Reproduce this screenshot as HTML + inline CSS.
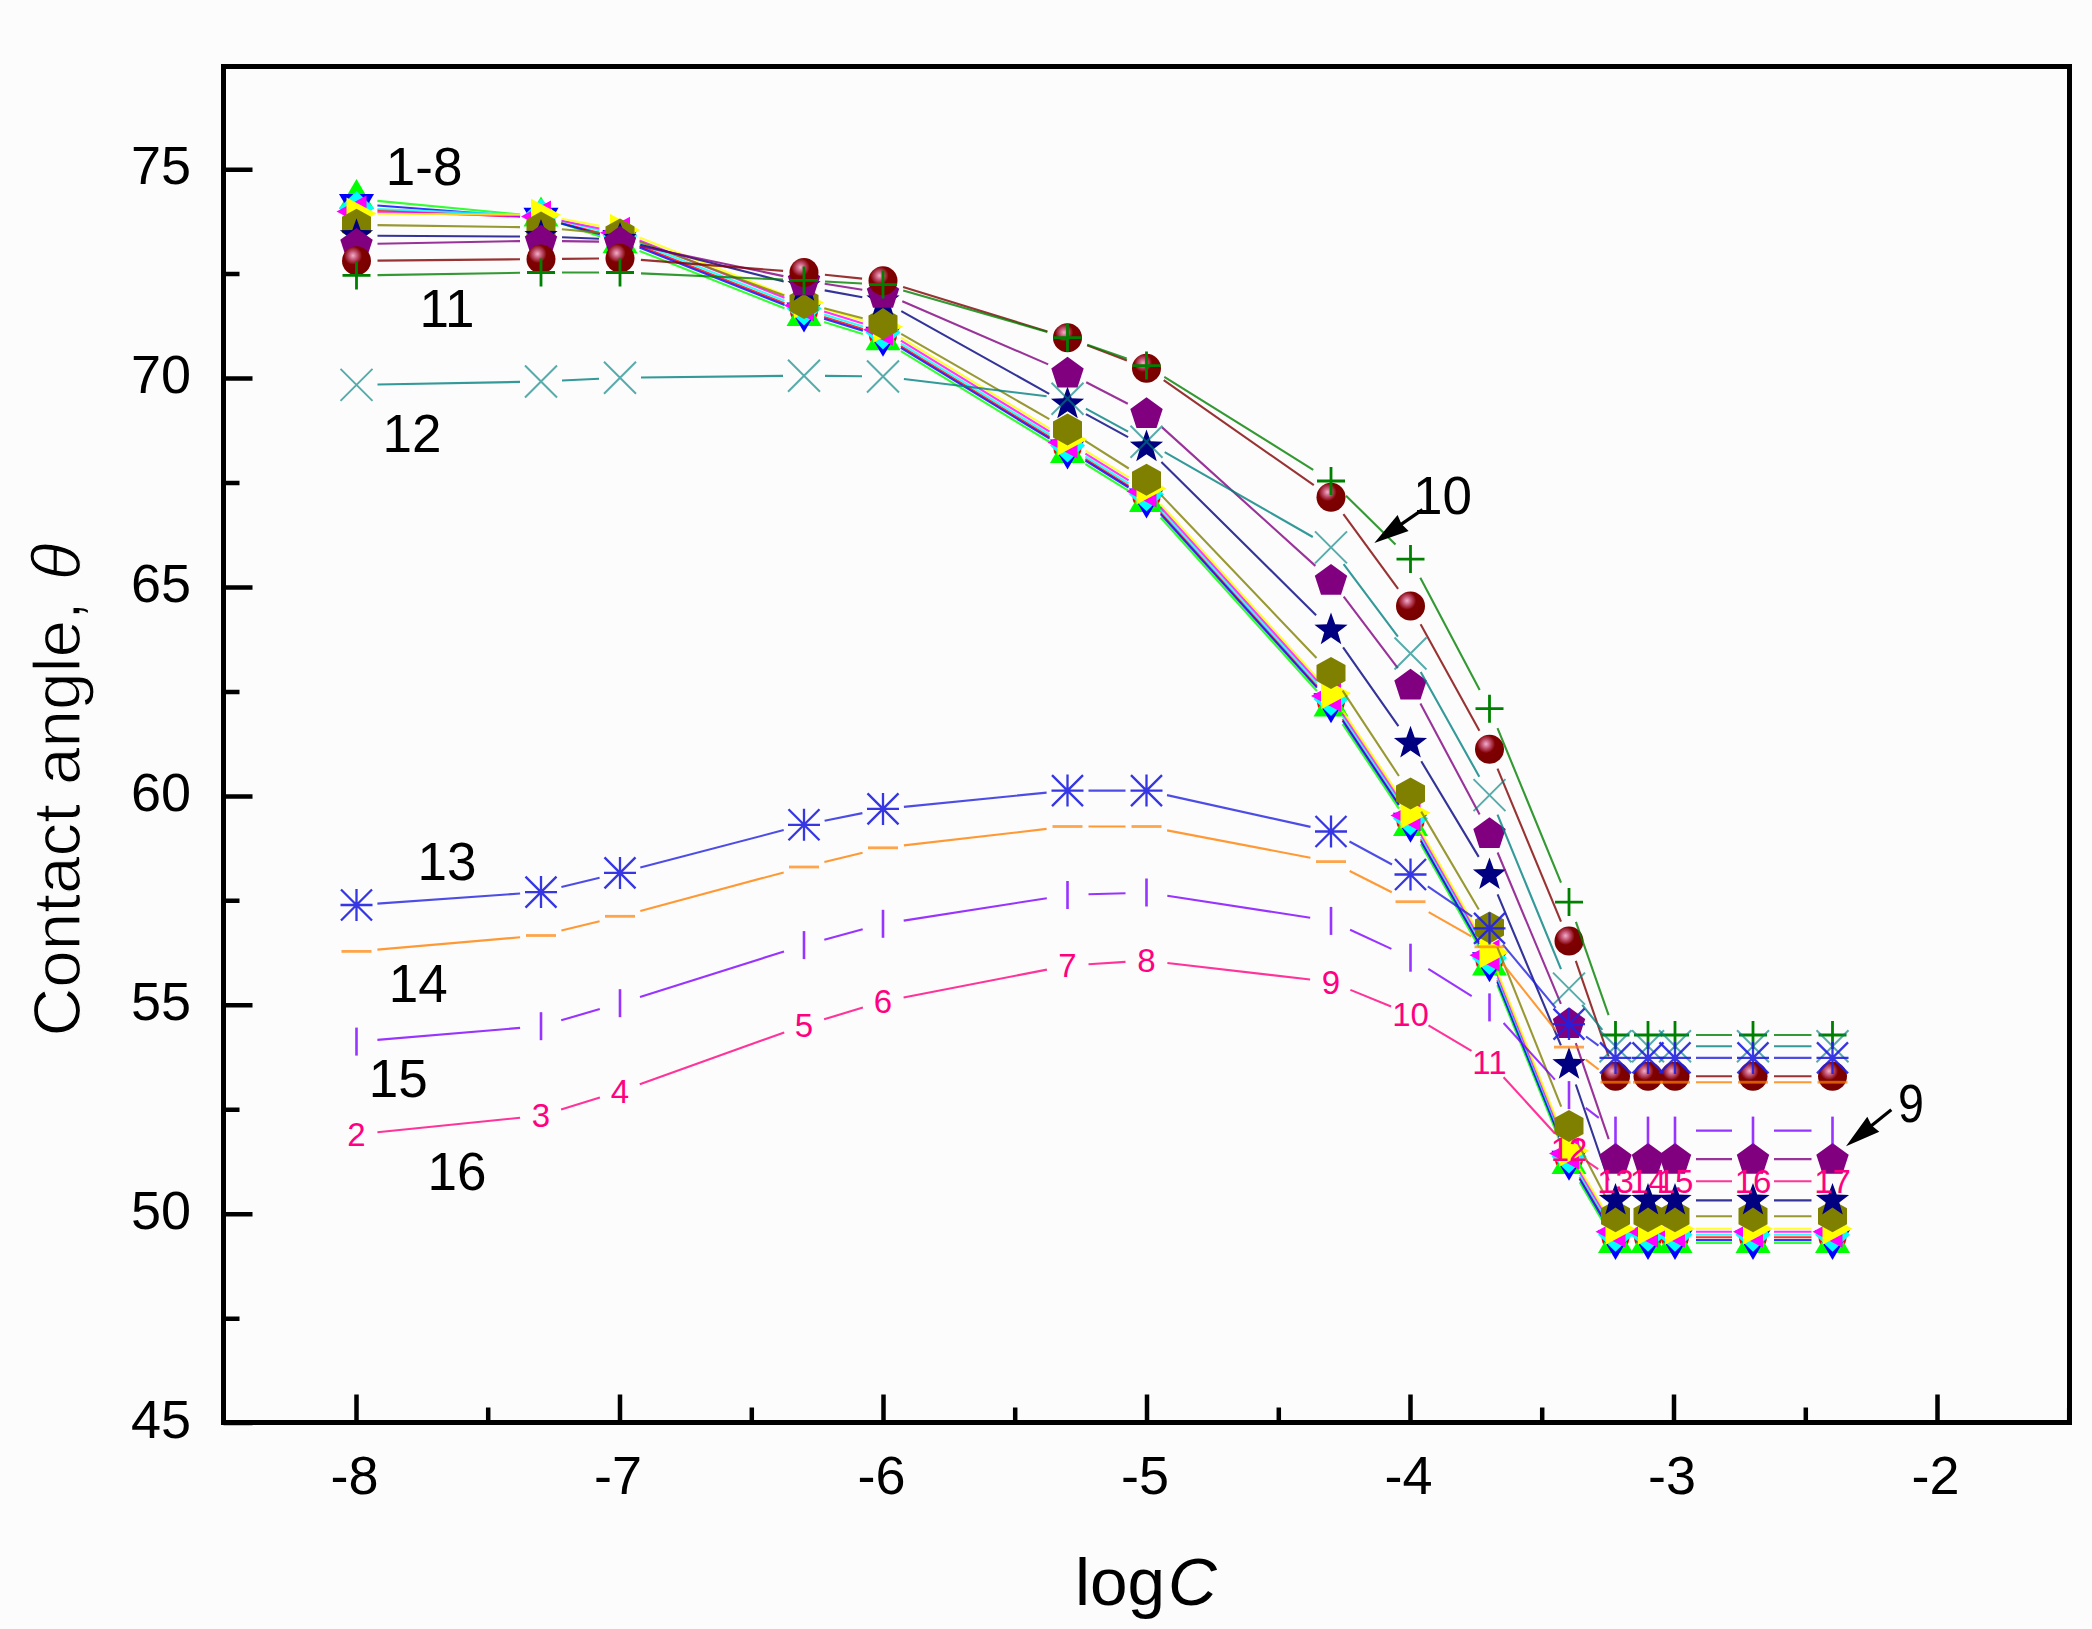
<!DOCTYPE html>
<html><head><meta charset="utf-8"><title>Contact angle vs logC</title>
<style>
html,body{margin:0;padding:0;background:#fcfcfc;}
svg{display:block;}
text{font-family:"Liberation Sans",Arial,sans-serif;}
.tl{font-size:54px;fill:#000;}
.at{font-size:67.5px;fill:#000;stroke:#fcfcfc;stroke-width:1.6px;}
.pl{font-size:53px;fill:#000;}
.idx{font-size:33px;text-anchor:middle;}
</style></head><body>
<svg width="2092" height="1629" viewBox="0 0 2092 1629">
<defs><radialGradient id="sph" cx="0.38" cy="0.32" r="0.7"><stop offset="0" stop-color="#f0b0c8"/><stop offset="0.22" stop-color="#c05070"/><stop offset="0.45" stop-color="#800000"/><stop offset="1" stop-color="#780000"/></radialGradient></defs>
<rect width="2092" height="1629" fill="#fcfcfc"/>
<path d="M377.5 210.3L520.0 216.8M561.3 223.0L599.7 233.0M639.5 245.9L784.5 303.2M824.1 317.1L862.9 329.0M900.9 346.1L1049.6 437.0M1085.4 459.0L1128.6 485.8M1160.6 512.4L1316.9 686.0M1342.6 719.0L1398.9 803.6M1420.8 839.3L1479.2 942.3M1497.3 980.1L1561.2 1139.6M1579.7 1177.1L1604.8 1219.1M1696.0 1237.2L1732.0 1237.2M1774.0 1237.2L1811.5 1237.2" stroke="#FF0000" stroke-width="2.1" fill="none" opacity="0.8"/><circle cx="356.5" cy="209.4" r="14" fill="#FF0000"/><circle cx="541.0" cy="217.7" r="14" fill="#FF0000"/><circle cx="620.0" cy="238.2" r="14" fill="#FF0000"/><circle cx="804.0" cy="310.9" r="14" fill="#FF0000"/><circle cx="883.0" cy="335.1" r="14" fill="#FF0000"/><circle cx="1067.5" cy="448.0" r="14" fill="#FF0000"/><circle cx="1146.5" cy="496.8" r="14" fill="#FF0000"/><circle cx="1331.0" cy="701.6" r="14" fill="#FF0000"/><circle cx="1410.5" cy="821.1" r="14" fill="#FF0000"/><circle cx="1489.5" cy="960.6" r="14" fill="#FF0000"/><circle cx="1569.0" cy="1159.1" r="14" fill="#FF0000"/><circle cx="1615.5" cy="1237.2" r="14" fill="#FF0000"/><circle cx="1648.0" cy="1237.2" r="14" fill="#FF0000"/><circle cx="1675.0" cy="1237.2" r="14" fill="#FF0000"/><circle cx="1753.0" cy="1237.2" r="14" fill="#FF0000"/><circle cx="1832.5" cy="1237.2" r="14" fill="#FF0000"/><path d="M377.4 200.9L520.1 214.5M560.9 223.2L600.1 236.5M639.5 250.9L784.5 308.2M824.1 322.1L862.9 334.0M900.9 351.1L1049.6 442.0M1085.4 464.0L1128.6 490.8M1160.6 517.5L1316.9 691.0M1342.6 724.1L1398.9 808.6M1420.8 844.3L1479.2 947.3M1497.3 985.1L1561.2 1144.6M1579.7 1182.2L1604.8 1224.9M1696.0 1243.0L1732.0 1243.0M1774.0 1243.0L1811.5 1243.0" stroke="#00FF00" stroke-width="2.1" fill="none" opacity="0.8"/><polygon points="356.5,178.9 374.0,208.9 339.0,208.9" fill="#00FF00"/><polygon points="541.0,196.5 558.5,226.5 523.5,226.5" fill="#00FF00"/><polygon points="620.0,223.2 637.5,253.2 602.5,253.2" fill="#00FF00"/><polygon points="804.0,295.9 821.5,325.9 786.5,325.9" fill="#00FF00"/><polygon points="883.0,320.2 900.5,350.2 865.5,350.2" fill="#00FF00"/><polygon points="1067.5,433.0 1085.0,463.0 1050.0,463.0" fill="#00FF00"/><polygon points="1146.5,481.9 1164.0,511.9 1129.0,511.9" fill="#00FF00"/><polygon points="1331.0,686.6 1348.5,716.6 1313.5,716.6" fill="#00FF00"/><polygon points="1410.5,806.1 1428.0,836.1 1393.0,836.1" fill="#00FF00"/><polygon points="1489.5,945.6 1507.0,975.6 1472.0,975.6" fill="#00FF00"/><polygon points="1569.0,1144.1 1586.5,1174.1 1551.5,1174.1" fill="#00FF00"/><polygon points="1615.5,1223.0 1633.0,1253.0 1598.0,1253.0" fill="#00FF00"/><polygon points="1648.0,1223.0 1665.5,1253.0 1630.5,1253.0" fill="#00FF00"/><polygon points="1675.0,1223.0 1692.5,1253.0 1657.5,1253.0" fill="#00FF00"/><polygon points="1753.0,1223.0 1770.5,1253.0 1735.5,1253.0" fill="#00FF00"/><polygon points="1832.5,1223.0 1850.0,1253.0 1815.0,1253.0" fill="#00FF00"/><path d="M377.4 205.5L520.1 216.2M561.2 223.4L599.8 234.2M639.5 247.6L784.5 304.9M824.1 318.7L862.9 330.7M900.9 347.8L1049.6 438.7M1085.4 460.7L1128.6 487.5M1160.6 514.1L1316.9 687.6M1342.6 720.7L1398.9 805.2M1420.8 841.0L1479.2 944.0M1497.3 981.8L1561.2 1141.2M1579.6 1178.8L1604.9 1222.0M1696.0 1240.1L1732.0 1240.1M1774.0 1240.1L1811.5 1240.1" stroke="#0000FF" stroke-width="2.1" fill="none" opacity="0.8"/><polygon points="339.0,194.0 374.0,194.0 356.5,224.0" fill="#0000FF"/><polygon points="523.5,207.7 558.5,207.7 541.0,237.7" fill="#0000FF"/><polygon points="602.5,229.9 637.5,229.9 620.0,259.9" fill="#0000FF"/><polygon points="786.5,302.6 821.5,302.6 804.0,332.6" fill="#0000FF"/><polygon points="865.5,326.8 900.5,326.8 883.0,356.8" fill="#0000FF"/><polygon points="1050.0,439.6 1085.0,439.6 1067.5,469.6" fill="#0000FF"/><polygon points="1129.0,488.5 1164.0,488.5 1146.5,518.5" fill="#0000FF"/><polygon points="1313.5,693.2 1348.5,693.2 1331.0,723.2" fill="#0000FF"/><polygon points="1393.0,812.7 1428.0,812.7 1410.5,842.7" fill="#0000FF"/><polygon points="1472.0,952.3 1507.0,952.3 1489.5,982.3" fill="#0000FF"/><polygon points="1551.5,1150.7 1586.5,1150.7 1569.0,1180.7" fill="#0000FF"/><polygon points="1598.0,1230.1 1633.0,1230.1 1615.5,1260.1" fill="#0000FF"/><polygon points="1630.5,1230.1 1665.5,1230.1 1648.0,1260.1" fill="#0000FF"/><polygon points="1657.5,1230.1 1692.5,1230.1 1675.0,1260.1" fill="#0000FF"/><polygon points="1735.5,1230.1 1770.5,1230.1 1753.0,1260.1" fill="#0000FF"/><polygon points="1815.0,1230.1 1850.0,1230.1 1832.5,1260.1" fill="#0000FF"/><path d="M377.5 209.0L520.0 214.8M561.4 220.8L599.6 230.5M639.5 243.4L784.5 300.7M824.1 314.6L862.9 326.5M900.9 343.6L1049.6 434.5M1085.4 456.5L1128.6 483.3M1160.6 509.9L1316.9 683.5M1342.6 716.5L1398.9 801.1M1420.8 836.8L1479.2 939.8M1497.3 977.6L1561.2 1137.0M1579.7 1174.6L1604.8 1216.6M1696.0 1234.7L1732.0 1234.7M1774.0 1234.7L1811.5 1234.7" stroke="#00FFFF" stroke-width="2.1" fill="none" opacity="0.8"/><polygon points="356.5,191.1 374.0,208.1 356.5,225.1 339.0,208.1" fill="#00FFFF"/><polygon points="541.0,198.7 558.5,215.7 541.0,232.7 523.5,215.7" fill="#00FFFF"/><polygon points="620.0,218.7 637.5,235.7 620.0,252.7 602.5,235.7" fill="#00FFFF"/><polygon points="804.0,291.4 821.5,308.4 804.0,325.4 786.5,308.4" fill="#00FFFF"/><polygon points="883.0,315.6 900.5,332.6 883.0,349.6 865.5,332.6" fill="#00FFFF"/><polygon points="1067.5,428.4 1085.0,445.4 1067.5,462.4 1050.0,445.4" fill="#00FFFF"/><polygon points="1146.5,477.3 1164.0,494.3 1146.5,511.3 1129.0,494.3" fill="#00FFFF"/><polygon points="1331.0,682.1 1348.5,699.1 1331.0,716.1 1313.5,699.1" fill="#00FFFF"/><polygon points="1410.5,801.5 1428.0,818.5 1410.5,835.5 1393.0,818.5" fill="#00FFFF"/><polygon points="1489.5,941.1 1507.0,958.1 1489.5,975.1 1472.0,958.1" fill="#00FFFF"/><polygon points="1569.0,1139.5 1586.5,1156.5 1569.0,1173.5 1551.5,1156.5" fill="#00FFFF"/><polygon points="1615.5,1217.7 1633.0,1234.7 1615.5,1251.7 1598.0,1234.7" fill="#00FFFF"/><polygon points="1648.0,1217.7 1665.5,1234.7 1648.0,1251.7 1630.5,1234.7" fill="#00FFFF"/><polygon points="1675.0,1217.7 1692.5,1234.7 1675.0,1251.7 1657.5,1234.7" fill="#00FFFF"/><polygon points="1753.0,1217.7 1770.5,1234.7 1753.0,1251.7 1735.5,1234.7" fill="#00FFFF"/><polygon points="1832.5,1217.7 1850.0,1234.7 1832.5,1251.7 1815.0,1234.7" fill="#00FFFF"/><path d="M377.5 212.1L520.0 215.9M561.6 220.7L599.4 228.5M639.5 240.5L784.5 297.8M824.1 311.6L862.9 323.6M900.9 340.7L1049.6 431.6M1085.4 453.6L1128.6 480.4M1160.6 507.0L1316.9 680.5M1342.6 713.6L1398.9 798.1M1420.8 833.9L1479.2 936.9M1497.3 974.7L1561.2 1134.1M1579.7 1171.7L1604.8 1213.7M1696.0 1231.7L1732.0 1231.7M1774.0 1231.7L1811.5 1231.7" stroke="#FF00FF" stroke-width="2.1" fill="none" opacity="0.8"/><polygon points="336.5,211.5 366.5,195.5 366.5,227.5" fill="#FF00FF"/><polygon points="521.0,216.5 551.0,200.5 551.0,232.5" fill="#FF00FF"/><polygon points="600.0,232.8 630.0,216.8 630.0,248.8" fill="#FF00FF"/><polygon points="784.0,305.5 814.0,289.5 814.0,321.5" fill="#FF00FF"/><polygon points="863.0,329.7 893.0,313.7 893.0,345.7" fill="#FF00FF"/><polygon points="1047.5,442.5 1077.5,426.5 1077.5,458.5" fill="#FF00FF"/><polygon points="1126.5,491.4 1156.5,475.4 1156.5,507.4" fill="#FF00FF"/><polygon points="1311.0,696.1 1341.0,680.1 1341.0,712.1" fill="#FF00FF"/><polygon points="1390.5,815.6 1420.5,799.6 1420.5,831.6" fill="#FF00FF"/><polygon points="1469.5,955.2 1499.5,939.2 1499.5,971.2" fill="#FF00FF"/><polygon points="1549.0,1153.6 1579.0,1137.6 1579.0,1169.6" fill="#FF00FF"/><polygon points="1595.5,1231.7 1625.5,1215.7 1625.5,1247.7" fill="#FF00FF"/><polygon points="1628.0,1231.7 1658.0,1215.7 1658.0,1247.7" fill="#FF00FF"/><polygon points="1655.0,1231.7 1685.0,1215.7 1685.0,1247.7" fill="#FF00FF"/><polygon points="1733.0,1231.7 1763.0,1215.7 1763.0,1247.7" fill="#FF00FF"/><polygon points="1812.5,1231.7 1842.5,1215.7 1842.5,1247.7" fill="#FF00FF"/><path d="M377.5 213.7L520.0 214.7M561.6 218.8L599.4 225.9M639.5 237.6L784.5 294.8M824.1 308.7L862.9 320.6M900.9 337.7L1049.6 428.6M1085.4 450.6L1128.6 477.4M1160.6 504.1L1316.9 677.6M1342.6 710.7L1398.9 795.2M1420.8 831.0L1479.2 934.0M1497.3 971.7L1561.2 1131.2M1579.7 1168.7L1604.8 1210.8M1696.0 1228.8L1732.0 1228.8M1774.0 1228.8L1811.5 1228.8" stroke="#FFFF00" stroke-width="2.1" fill="none" opacity="0.8"/><polygon points="376.5,213.6 346.5,197.6 346.5,229.6" fill="#FFFF00"/><polygon points="561.0,214.8 531.0,198.8 531.0,230.8" fill="#FFFF00"/><polygon points="640.0,229.9 610.0,213.9 610.0,245.9" fill="#FFFF00"/><polygon points="824.0,302.6 794.0,286.6 794.0,318.6" fill="#FFFF00"/><polygon points="903.0,326.8 873.0,310.8 873.0,342.8" fill="#FFFF00"/><polygon points="1087.5,439.6 1057.5,423.6 1057.5,455.6" fill="#FFFF00"/><polygon points="1166.5,488.5 1136.5,472.5 1136.5,504.5" fill="#FFFF00"/><polygon points="1351.0,693.2 1321.0,677.2 1321.0,709.2" fill="#FFFF00"/><polygon points="1430.5,812.7 1400.5,796.7 1400.5,828.7" fill="#FFFF00"/><polygon points="1509.5,952.2 1479.5,936.2 1479.5,968.2" fill="#FFFF00"/><polygon points="1589.0,1150.7 1559.0,1134.7 1559.0,1166.7" fill="#FFFF00"/><polygon points="1635.5,1228.8 1605.5,1212.8 1605.5,1244.8" fill="#FFFF00"/><polygon points="1668.0,1228.8 1638.0,1212.8 1638.0,1244.8" fill="#FFFF00"/><polygon points="1695.0,1228.8 1665.0,1212.8 1665.0,1244.8" fill="#FFFF00"/><polygon points="1773.0,1228.8 1743.0,1212.8 1743.0,1244.8" fill="#FFFF00"/><polygon points="1852.5,1228.8 1822.5,1212.8 1822.5,1244.8" fill="#FFFF00"/><path d="M377.5 225.1L520.0 227.1M561.9 229.2L599.1 232.6M639.7 241.8L784.3 295.6M824.3 308.2L862.7 318.2M901.2 333.9L1049.3 419.1M1085.2 440.8L1128.8 468.5M1161.0 494.9L1316.5 658.0M1342.6 690.7L1398.9 776.0M1421.2 811.6L1478.8 909.5M1497.3 947.1L1561.2 1106.6M1578.6 1144.7L1605.9 1197.6M1696.0 1216.3L1732.0 1216.3M1774.0 1216.3L1811.5 1216.3" stroke="#808000" stroke-width="2.1" fill="none" opacity="0.8"/><polygon points="356.5,208.8 371.0,216.8 371.0,232.8 356.5,240.8 342.0,232.8 342.0,216.8" fill="#808000"/><polygon points="541.0,211.4 555.5,219.4 555.5,235.4 541.0,243.4 526.5,235.4 526.5,219.4" fill="#808000"/><polygon points="620.0,218.5 634.5,226.5 634.5,242.5 620.0,250.5 605.5,242.5 605.5,226.5" fill="#808000"/><polygon points="804.0,287.0 818.5,295.0 818.5,311.0 804.0,319.0 789.5,311.0 789.5,295.0" fill="#808000"/><polygon points="883.0,307.5 897.5,315.5 897.5,331.5 883.0,339.5 868.5,331.5 868.5,315.5" fill="#808000"/><polygon points="1067.5,413.6 1082.0,421.6 1082.0,437.6 1067.5,445.6 1053.0,437.6 1053.0,421.6" fill="#808000"/><polygon points="1146.5,463.7 1161.0,471.7 1161.0,487.7 1146.5,495.7 1132.0,487.7 1132.0,471.7" fill="#808000"/><polygon points="1331.0,657.1 1345.5,665.1 1345.5,681.1 1331.0,689.1 1316.5,681.1 1316.5,665.1" fill="#808000"/><polygon points="1410.5,777.5 1425.0,785.5 1425.0,801.5 1410.5,809.5 1396.0,801.5 1396.0,785.5" fill="#808000"/><polygon points="1489.5,911.6 1504.0,919.6 1504.0,935.6 1489.5,943.6 1475.0,935.6 1475.0,919.6" fill="#808000"/><polygon points="1569.0,1110.0 1583.5,1118.0 1583.5,1134.0 1569.0,1142.0 1554.5,1134.0 1554.5,1118.0" fill="#808000"/><polygon points="1615.5,1200.3 1630.0,1208.3 1630.0,1224.3 1615.5,1232.3 1601.0,1224.3 1601.0,1208.3" fill="#808000"/><polygon points="1648.0,1200.3 1662.5,1208.3 1662.5,1224.3 1648.0,1232.3 1633.5,1224.3 1633.5,1208.3" fill="#808000"/><polygon points="1675.0,1200.3 1689.5,1208.3 1689.5,1224.3 1675.0,1232.3 1660.5,1224.3 1660.5,1208.3" fill="#808000"/><polygon points="1753.0,1200.3 1767.5,1208.3 1767.5,1224.3 1753.0,1232.3 1738.5,1224.3 1738.5,1208.3" fill="#808000"/><polygon points="1832.5,1200.3 1847.0,1208.3 1847.0,1224.3 1832.5,1232.3 1818.0,1224.3 1818.0,1208.3" fill="#808000"/><path d="M377.5 235.8L520.0 236.5M562.0 237.3L599.0 238.7M640.3 244.7L783.7 281.5M824.7 290.4L862.3 297.2M901.3 311.1L1049.2 393.8M1085.9 414.1L1128.1 437.1M1161.4 461.9L1316.1 615.3M1343.1 647.3L1398.4 726.2M1421.3 761.3L1478.7 856.9M1497.6 894.3L1560.9 1045.3M1575.8 1084.5L1608.7 1180.5M1696.0 1200.4L1732.0 1200.4M1774.0 1200.4L1811.5 1200.4" stroke="#000080" stroke-width="2.1" fill="none" opacity="0.8"/><polygon points="356.5,218.2 360.7,229.9 373.1,230.3 363.3,237.9 366.8,249.9 356.5,242.9 346.2,249.9 349.7,237.9 339.9,230.3 352.3,229.9" fill="#000080"/><polygon points="541.0,219.0 545.2,230.7 557.6,231.1 547.8,238.8 551.3,250.7 541.0,243.7 530.7,250.7 534.2,238.8 524.4,231.1 536.8,230.7" fill="#000080"/><polygon points="620.0,222.0 624.2,233.6 636.6,234.1 626.8,241.7 630.3,253.6 620.0,246.7 609.7,253.6 613.2,241.7 603.4,234.1 615.8,233.6" fill="#000080"/><polygon points="804.0,269.2 808.2,280.9 820.6,281.3 810.8,288.9 814.3,300.8 804.0,293.9 793.7,300.8 797.2,288.9 787.4,281.3 799.8,280.9" fill="#000080"/><polygon points="883.0,283.4 887.2,295.1 899.6,295.5 889.8,303.1 893.3,315.0 883.0,308.1 872.7,315.0 876.2,303.1 866.4,295.5 878.8,295.1" fill="#000080"/><polygon points="1067.5,386.6 1071.7,398.3 1084.1,398.7 1074.3,406.3 1077.8,418.2 1067.5,411.3 1057.2,418.2 1060.7,406.3 1050.9,398.7 1063.3,398.3" fill="#000080"/><polygon points="1146.5,429.6 1150.7,441.3 1163.1,441.7 1153.3,449.3 1156.8,461.3 1146.5,454.3 1136.2,461.3 1139.7,449.3 1129.9,441.7 1142.3,441.3" fill="#000080"/><polygon points="1331.0,612.6 1335.2,624.3 1347.6,624.7 1337.8,632.3 1341.3,644.3 1331.0,637.3 1320.7,644.3 1324.2,632.3 1314.4,624.7 1326.8,624.3" fill="#000080"/><polygon points="1410.5,725.8 1414.7,737.5 1427.1,737.9 1417.3,745.6 1420.8,757.5 1410.5,750.5 1400.2,757.5 1403.7,745.6 1393.9,737.9 1406.3,737.5" fill="#000080"/><polygon points="1489.5,857.4 1493.7,869.1 1506.1,869.5 1496.3,877.2 1499.8,889.1 1489.5,882.1 1479.2,889.1 1482.7,877.2 1472.9,869.5 1485.3,869.1" fill="#000080"/><polygon points="1569.0,1047.1 1573.2,1058.8 1585.6,1059.2 1575.8,1066.9 1579.3,1078.8 1569.0,1071.8 1558.7,1078.8 1562.2,1066.9 1552.4,1059.2 1564.8,1058.8" fill="#000080"/><polygon points="1615.5,1182.9 1619.7,1194.6 1632.1,1195.0 1622.3,1202.6 1625.8,1214.6 1615.5,1207.6 1605.2,1214.6 1608.7,1202.6 1598.9,1195.0 1611.3,1194.6" fill="#000080"/><polygon points="1648.0,1182.9 1652.2,1194.6 1664.6,1195.0 1654.8,1202.6 1658.3,1214.6 1648.0,1207.6 1637.7,1214.6 1641.2,1202.6 1631.4,1195.0 1643.8,1194.6" fill="#000080"/><polygon points="1675.0,1182.9 1679.2,1194.6 1691.6,1195.0 1681.8,1202.6 1685.3,1214.6 1675.0,1207.6 1664.7,1214.6 1668.2,1202.6 1658.4,1195.0 1670.8,1194.6" fill="#000080"/><polygon points="1753.0,1182.9 1757.2,1194.6 1769.6,1195.0 1759.8,1202.6 1763.3,1214.6 1753.0,1207.6 1742.7,1214.6 1746.2,1202.6 1736.4,1195.0 1748.8,1194.6" fill="#000080"/><polygon points="1832.5,1182.9 1836.7,1194.6 1849.1,1195.0 1839.3,1202.6 1842.8,1214.6 1832.5,1207.6 1822.2,1214.6 1825.7,1202.6 1815.9,1195.0 1828.3,1194.6" fill="#000080"/><path d="M377.5 243.7L520.0 241.1M562.0 241.1L599.0 241.6M640.6 246.3L783.4 276.1M824.7 283.7L862.3 289.7M902.3 301.3L1048.2 364.4M1086.2 382.3L1127.8 403.7M1162.1 427.4L1315.4 565.9M1343.7 596.7L1397.8 668.1M1420.4 703.4L1479.6 814.6M1497.6 852.5L1560.9 1003.9M1575.8 1043.1L1608.7 1139.2M1696.0 1159.1L1732.0 1159.1M1774.0 1159.1L1811.5 1159.1" stroke="#800080" stroke-width="2.1" fill="none" opacity="0.8"/><polygon points="356.5,228.1 372.7,239.8 366.5,258.8 346.5,258.8 340.3,239.8" fill="#800080"/><polygon points="541.0,224.7 557.2,236.5 551.0,255.5 531.0,255.5 524.8,236.5" fill="#800080"/><polygon points="620.0,226.0 636.2,237.7 630.0,256.7 610.0,256.7 603.8,237.7" fill="#800080"/><polygon points="804.0,264.4 820.2,276.2 814.0,295.2 794.0,295.2 787.8,276.2" fill="#800080"/><polygon points="883.0,277.0 899.2,288.7 893.0,307.7 873.0,307.7 866.8,288.7" fill="#800080"/><polygon points="1067.5,356.8 1083.7,368.5 1077.5,387.5 1057.5,387.5 1051.3,368.5" fill="#800080"/><polygon points="1146.5,397.3 1162.7,409.0 1156.5,428.0 1136.5,428.0 1130.3,409.0" fill="#800080"/><polygon points="1331.0,564.0 1347.2,575.7 1341.0,594.7 1321.0,594.7 1314.8,575.7" fill="#800080"/><polygon points="1410.5,668.8 1426.7,680.6 1420.5,699.6 1400.5,699.6 1394.3,680.6" fill="#800080"/><polygon points="1489.5,817.2 1505.7,828.9 1499.5,847.9 1479.5,847.9 1473.3,828.9" fill="#800080"/><polygon points="1569.0,1007.3 1585.2,1019.0 1579.0,1038.0 1559.0,1038.0 1552.8,1019.0" fill="#800080"/><polygon points="1615.5,1143.1 1631.7,1154.8 1625.5,1173.8 1605.5,1173.8 1599.3,1154.8" fill="#800080"/><polygon points="1648.0,1143.1 1664.2,1154.8 1658.0,1173.8 1638.0,1173.8 1631.8,1154.8" fill="#800080"/><polygon points="1675.0,1143.1 1691.2,1154.8 1685.0,1173.8 1665.0,1173.8 1658.8,1154.8" fill="#800080"/><polygon points="1753.0,1143.1 1769.2,1154.8 1763.0,1173.8 1743.0,1173.8 1736.8,1154.8" fill="#800080"/><polygon points="1832.5,1143.1 1848.7,1154.8 1842.5,1173.8 1822.5,1173.8 1816.3,1154.8" fill="#800080"/><path d="M377.5 260.6L520.0 259.3M562.0 258.9L599.0 258.5M640.9 259.9L783.1 270.9M824.9 274.7L862.1 278.6M903.1 287.0L1047.4 331.5M1087.1 345.2L1126.9 360.6M1163.7 380.2L1313.8 485.2M1343.4 514.2L1398.1 588.9M1420.6 624.3L1479.4 730.8M1497.5 768.6L1561.0 921.6M1575.8 960.8L1608.7 1056.5M1696.0 1076.3L1732.0 1076.3M1774.0 1076.3L1811.5 1076.3" stroke="#800000" stroke-width="2.1" fill="none" opacity="0.8"/><circle cx="356.5" cy="260.8" r="14.5" fill="url(#sph)"/><circle cx="541.0" cy="259.1" r="14.5" fill="url(#sph)"/><circle cx="620.0" cy="258.3" r="14.5" fill="url(#sph)"/><circle cx="804.0" cy="272.5" r="14.5" fill="url(#sph)"/><circle cx="883.0" cy="280.8" r="14.5" fill="url(#sph)"/><circle cx="1067.5" cy="337.7" r="14.5" fill="url(#sph)"/><circle cx="1146.5" cy="368.2" r="14.5" fill="url(#sph)"/><circle cx="1331.0" cy="497.3" r="14.5" fill="url(#sph)"/><circle cx="1410.5" cy="605.9" r="14.5" fill="url(#sph)"/><circle cx="1489.5" cy="749.2" r="14.5" fill="url(#sph)"/><circle cx="1569.0" cy="941.0" r="14.5" fill="url(#sph)"/><circle cx="1615.5" cy="1076.3" r="14.5" fill="url(#sph)"/><circle cx="1648.0" cy="1076.3" r="14.5" fill="url(#sph)"/><circle cx="1675.0" cy="1076.3" r="14.5" fill="url(#sph)"/><circle cx="1753.0" cy="1076.3" r="14.5" fill="url(#sph)"/><circle cx="1832.5" cy="1076.3" r="14.5" fill="url(#sph)"/><path d="M377.5 275.1L520.0 272.8M562.0 272.5L599.0 272.5M641.0 273.4L783.0 279.5M825.0 281.5L862.0 283.5M903.2 290.4L1047.3 331.9M1087.3 344.7L1126.7 358.6M1164.3 376.8L1313.2 469.8M1346.0 495.7L1395.5 544.4M1420.3 577.7L1479.7 690.1M1497.5 728.1L1561.0 882.7M1575.9 921.9L1608.6 1015.1M1696.0 1035.0L1732.0 1035.0M1774.0 1035.0L1811.5 1035.0" stroke="#008000" stroke-width="2.1" fill="none" opacity="0.8"/><path d="M342.5 275.4H370.5M356.5 261.4V289.4" stroke="#008000" stroke-width="2.8" fill="none"/><path d="M527.0 272.5H555.0M541.0 258.5V286.5" stroke="#008000" stroke-width="2.8" fill="none"/><path d="M606.0 272.5H634.0M620.0 258.5V286.5" stroke="#008000" stroke-width="2.8" fill="none"/><path d="M790.0 280.4H818.0M804.0 266.4V294.4" stroke="#008000" stroke-width="2.8" fill="none"/><path d="M869.0 284.6H897.0M883.0 270.6V298.6" stroke="#008000" stroke-width="2.8" fill="none"/><path d="M1053.5 337.7H1081.5M1067.5 323.7V351.7" stroke="#008000" stroke-width="2.8" fill="none"/><path d="M1132.5 365.6H1160.5M1146.5 351.6V379.6" stroke="#008000" stroke-width="2.8" fill="none"/><path d="M1317.0 481.0H1345.0M1331.0 467.0V495.0" stroke="#008000" stroke-width="2.8" fill="none"/><path d="M1396.5 559.1H1424.5M1410.5 545.1V573.1" stroke="#008000" stroke-width="2.8" fill="none"/><path d="M1475.5 708.7H1503.5M1489.5 694.7V722.7" stroke="#008000" stroke-width="2.8" fill="none"/><path d="M1555.0 902.1H1583.0M1569.0 888.1V916.1" stroke="#008000" stroke-width="2.8" fill="none"/><path d="M1601.5 1035.0H1629.5M1615.5 1021.0V1049.0" stroke="#008000" stroke-width="2.8" fill="none"/><path d="M1634.0 1035.0H1662.0M1648.0 1021.0V1049.0" stroke="#008000" stroke-width="2.8" fill="none"/><path d="M1661.0 1035.0H1689.0M1675.0 1021.0V1049.0" stroke="#008000" stroke-width="2.8" fill="none"/><path d="M1739.0 1035.0H1767.0M1753.0 1021.0V1049.0" stroke="#008000" stroke-width="2.8" fill="none"/><path d="M1818.5 1035.0H1846.5M1832.5 1021.0V1049.0" stroke="#008000" stroke-width="2.8" fill="none"/><path d="M377.5 384.5L520.0 381.9M562.0 380.5L599.0 378.8M641.0 377.5L783.0 375.9M825.0 375.9L862.0 376.3M903.9 379.0L1046.6 396.2M1085.9 408.7L1128.1 431.6M1164.7 452.1L1312.8 537.0M1343.6 564.2L1397.9 636.7M1420.7 671.9L1479.3 776.8M1497.5 814.6L1561.0 969.2M1582.2 1004.9L1602.3 1029.9M1696.0 1046.2L1732.0 1046.2M1774.0 1046.2L1811.5 1046.2" stroke="#008080" stroke-width="2.1" fill="none" opacity="0.8"/><path d="M340.5 368.9L372.5 400.9M340.5 400.9L372.5 368.9" stroke="#008080" stroke-width="2" fill="none" opacity="0.65"/><path d="M525.0 365.5L557.0 397.5M525.0 397.5L557.0 365.5" stroke="#008080" stroke-width="2" fill="none" opacity="0.65"/><path d="M604.0 361.8L636.0 393.8M604.0 393.8L636.0 361.8" stroke="#008080" stroke-width="2" fill="none" opacity="0.65"/><path d="M788.0 359.7L820.0 391.7M788.0 391.7L820.0 359.7" stroke="#008080" stroke-width="2" fill="none" opacity="0.65"/><path d="M867.0 360.5L899.0 392.5M867.0 392.5L899.0 360.5" stroke="#008080" stroke-width="2" fill="none" opacity="0.65"/><path d="M1051.5 382.7L1083.5 414.7M1051.5 414.7L1083.5 382.7" stroke="#008080" stroke-width="2" fill="none" opacity="0.65"/><path d="M1130.5 425.7L1162.5 457.7M1130.5 457.7L1162.5 425.7" stroke="#008080" stroke-width="2" fill="none" opacity="0.65"/><path d="M1315.0 531.4L1347.0 563.4M1315.0 563.4L1347.0 531.4" stroke="#008080" stroke-width="2" fill="none" opacity="0.65"/><path d="M1394.5 637.5L1426.5 669.5M1394.5 669.5L1426.5 637.5" stroke="#008080" stroke-width="2" fill="none" opacity="0.65"/><path d="M1473.5 779.1L1505.5 811.1M1473.5 811.1L1505.5 779.1" stroke="#008080" stroke-width="2" fill="none" opacity="0.65"/><path d="M1553.0 972.6L1585.0 1004.6M1553.0 1004.6L1585.0 972.6" stroke="#008080" stroke-width="2" fill="none" opacity="0.65"/><path d="M1599.5 1030.2L1631.5 1062.2M1599.5 1062.2L1631.5 1030.2" stroke="#008080" stroke-width="2" fill="none" opacity="0.65"/><path d="M1632.0 1030.2L1664.0 1062.2M1632.0 1062.2L1664.0 1030.2" stroke="#008080" stroke-width="2" fill="none" opacity="0.65"/><path d="M1659.0 1030.2L1691.0 1062.2M1659.0 1062.2L1691.0 1030.2" stroke="#008080" stroke-width="2" fill="none" opacity="0.65"/><path d="M1737.0 1030.2L1769.0 1062.2M1737.0 1062.2L1769.0 1030.2" stroke="#008080" stroke-width="2" fill="none" opacity="0.65"/><path d="M1816.5 1030.2L1848.5 1062.2M1816.5 1062.2L1848.5 1030.2" stroke="#008080" stroke-width="2" fill="none" opacity="0.65"/><path d="M377.4 903.6L520.1 893.5M561.4 887.1L599.6 877.8M640.3 867.6L783.7 830.1M824.6 820.7L862.4 813.1M903.9 806.9L1046.6 792.6M1088.5 790.6L1125.5 790.6M1167.0 795.1L1310.5 826.9M1349.5 841.5L1392.0 864.5M1427.8 886.4L1472.2 916.6M1502.9 944.6L1555.6 1007.9M1586.0 1036.5L1598.5 1045.6M1696.0 1057.9L1732.0 1057.9M1774.0 1057.9L1811.5 1057.9" stroke="#2020E0" stroke-width="2.1" fill="none" opacity="0.8"/><path d="M340.5 905.0H372.5M356.5 889.0V921.0M341.0 889.5L372.0 920.5M341.0 920.5L372.0 889.5" stroke="#2020E0" stroke-width="2.3" fill="none" opacity="0.9"/><path d="M525.0 892.1H557.0M541.0 876.1V908.1M525.5 876.6L556.5 907.6M525.5 907.6L556.5 876.6" stroke="#2020E0" stroke-width="2.3" fill="none" opacity="0.9"/><path d="M604.0 872.9H636.0M620.0 856.9V888.9M604.5 857.4L635.5 888.4M604.5 888.4L635.5 857.4" stroke="#2020E0" stroke-width="2.3" fill="none" opacity="0.9"/><path d="M788.0 824.8H820.0M804.0 808.8V840.8M788.5 809.3L819.5 840.3M788.5 840.3L819.5 809.3" stroke="#2020E0" stroke-width="2.3" fill="none" opacity="0.9"/><path d="M867.0 808.9H899.0M883.0 792.9V824.9M867.5 793.4L898.5 824.4M867.5 824.4L898.5 793.4" stroke="#2020E0" stroke-width="2.3" fill="none" opacity="0.9"/><path d="M1051.5 790.6H1083.5M1067.5 774.6V806.6M1052.0 775.1L1083.0 806.1M1052.0 806.1L1083.0 775.1" stroke="#2020E0" stroke-width="2.3" fill="none" opacity="0.9"/><path d="M1130.5 790.6H1162.5M1146.5 774.6V806.6M1131.0 775.1L1162.0 806.1M1131.0 806.1L1162.0 775.1" stroke="#2020E0" stroke-width="2.3" fill="none" opacity="0.9"/><path d="M1315.0 831.5H1347.0M1331.0 815.5V847.5M1315.5 816.0L1346.5 847.0M1315.5 847.0L1346.5 816.0" stroke="#2020E0" stroke-width="2.3" fill="none" opacity="0.9"/><path d="M1394.5 874.5H1426.5M1410.5 858.5V890.5M1395.0 859.0L1426.0 890.0M1395.0 890.0L1426.0 859.0" stroke="#2020E0" stroke-width="2.3" fill="none" opacity="0.9"/><path d="M1473.5 928.4H1505.5M1489.5 912.4V944.4M1474.0 912.9L1505.0 943.9M1474.0 943.9L1505.0 912.9" stroke="#2020E0" stroke-width="2.3" fill="none" opacity="0.9"/><path d="M1553.0 1024.1H1585.0M1569.0 1008.1V1040.1M1553.5 1008.6L1584.5 1039.6M1553.5 1039.6L1584.5 1008.6" stroke="#2020E0" stroke-width="2.3" fill="none" opacity="0.9"/><path d="M1599.5 1057.9H1631.5M1615.5 1041.9V1073.9M1600.0 1042.4L1631.0 1073.4M1600.0 1073.4L1631.0 1042.4" stroke="#2020E0" stroke-width="2.3" fill="none" opacity="0.9"/><path d="M1632.0 1057.9H1664.0M1648.0 1041.9V1073.9M1632.5 1042.4L1663.5 1073.4M1632.5 1073.4L1663.5 1042.4" stroke="#2020E0" stroke-width="2.3" fill="none" opacity="0.9"/><path d="M1659.0 1057.9H1691.0M1675.0 1041.9V1073.9M1659.5 1042.4L1690.5 1073.4M1659.5 1073.4L1690.5 1042.4" stroke="#2020E0" stroke-width="2.3" fill="none" opacity="0.9"/><path d="M1737.0 1057.9H1769.0M1753.0 1041.9V1073.9M1737.5 1042.4L1768.5 1073.4M1737.5 1073.4L1768.5 1042.4" stroke="#2020E0" stroke-width="2.3" fill="none" opacity="0.9"/><path d="M1816.5 1057.9H1848.5M1832.5 1041.9V1073.9M1817.0 1042.4L1848.0 1073.4M1817.0 1073.4L1848.0 1042.4" stroke="#2020E0" stroke-width="2.3" fill="none" opacity="0.9"/><path d="M377.4 949.6L520.1 937.3M561.4 930.6L599.6 921.3M640.3 910.9L783.7 872.4M824.4 862.0L862.6 852.8M903.9 845.4L1046.6 828.9M1088.5 826.5L1125.5 826.5M1167.1 830.4L1310.4 857.7M1349.7 871.0L1391.8 892.2M1428.7 912.1L1471.3 936.4M1502.5 963.3L1556.0 1030.6M1585.8 1059.7L1598.7 1069.5M1696.0 1082.2L1732.0 1082.2M1774.0 1082.2L1811.5 1082.2" stroke="#FF8000" stroke-width="2.1" fill="none" opacity="0.8"/><path d="M341.5 951.4H371.5" stroke="#FF8000" stroke-width="2.8" fill="none" opacity="0.7"/><path d="M526.0 935.5H556.0" stroke="#FF8000" stroke-width="2.8" fill="none" opacity="0.7"/><path d="M605.0 916.3H635.0" stroke="#FF8000" stroke-width="2.8" fill="none" opacity="0.7"/><path d="M789.0 867.0H819.0" stroke="#FF8000" stroke-width="2.8" fill="none" opacity="0.7"/><path d="M868.0 847.8H898.0" stroke="#FF8000" stroke-width="2.8" fill="none" opacity="0.7"/><path d="M1052.5 826.5H1082.5" stroke="#FF8000" stroke-width="2.8" fill="none" opacity="0.7"/><path d="M1131.5 826.5H1161.5" stroke="#FF8000" stroke-width="2.8" fill="none" opacity="0.7"/><path d="M1316.0 861.6H1346.0" stroke="#FF8000" stroke-width="2.8" fill="none" opacity="0.7"/><path d="M1395.5 901.7H1425.5" stroke="#FF8000" stroke-width="2.8" fill="none" opacity="0.7"/><path d="M1474.5 946.8H1504.5" stroke="#FF8000" stroke-width="2.8" fill="none" opacity="0.7"/><path d="M1554.0 1047.1H1584.0" stroke="#FF8000" stroke-width="2.8" fill="none" opacity="0.7"/><path d="M1600.5 1082.2H1630.5" stroke="#FF8000" stroke-width="2.8" fill="none" opacity="0.7"/><path d="M1633.0 1082.2H1663.0" stroke="#FF8000" stroke-width="2.8" fill="none" opacity="0.7"/><path d="M1660.0 1082.2H1690.0" stroke="#FF8000" stroke-width="2.8" fill="none" opacity="0.7"/><path d="M1738.0 1082.2H1768.0" stroke="#FF8000" stroke-width="2.8" fill="none" opacity="0.7"/><path d="M1817.5 1082.2H1847.5" stroke="#FF8000" stroke-width="2.8" fill="none" opacity="0.7"/><path d="M377.4 1039.9L520.1 1027.9M561.2 1020.3L599.8 1009.1M640.0 996.9L784.0 951.5M824.3 939.7L862.7 929.3M903.7 920.6L1046.8 898.2M1088.5 894.3L1125.5 893.2M1167.3 895.7L1310.2 917.7M1350.1 929.7L1391.4 948.9M1428.3 968.9L1471.7 996.2M1503.6 1023.0L1554.9 1079.6M1585.7 1107.9L1598.8 1117.9M1696.0 1130.6L1732.0 1130.6M1774.0 1130.6L1811.5 1130.6" stroke="#8000FF" stroke-width="2.1" fill="none" opacity="0.8"/><path d="M356.5 1027.6V1055.6" stroke="#8000FF" stroke-width="2.6" fill="none" opacity="0.8"/><path d="M541.0 1012.2V1040.2" stroke="#8000FF" stroke-width="2.6" fill="none" opacity="0.8"/><path d="M620.0 989.2V1017.2" stroke="#8000FF" stroke-width="2.6" fill="none" opacity="0.8"/><path d="M804.0 931.1V959.1" stroke="#8000FF" stroke-width="2.6" fill="none" opacity="0.8"/><path d="M883.0 909.8V937.8" stroke="#8000FF" stroke-width="2.6" fill="none" opacity="0.8"/><path d="M1067.5 881.0V909.0" stroke="#8000FF" stroke-width="2.6" fill="none" opacity="0.8"/><path d="M1146.5 878.5V906.5" stroke="#8000FF" stroke-width="2.6" fill="none" opacity="0.8"/><path d="M1331.0 906.9V934.9" stroke="#8000FF" stroke-width="2.6" fill="none" opacity="0.8"/><path d="M1410.5 943.7V971.7" stroke="#8000FF" stroke-width="2.6" fill="none" opacity="0.8"/><path d="M1489.5 993.4V1021.4" stroke="#8000FF" stroke-width="2.6" fill="none" opacity="0.8"/><path d="M1569.0 1081.1V1109.1" stroke="#8000FF" stroke-width="2.6" fill="none" opacity="0.8"/><path d="M1615.5 1116.6V1144.6" stroke="#8000FF" stroke-width="2.6" fill="none" opacity="0.8"/><path d="M1648.0 1116.6V1144.6" stroke="#8000FF" stroke-width="2.6" fill="none" opacity="0.8"/><path d="M1675.0 1116.6V1144.6" stroke="#8000FF" stroke-width="2.6" fill="none" opacity="0.8"/><path d="M1753.0 1116.6V1144.6" stroke="#8000FF" stroke-width="2.6" fill="none" opacity="0.8"/><path d="M1832.5 1116.6V1144.6" stroke="#8000FF" stroke-width="2.6" fill="none" opacity="0.8"/><path d="M377.4 1132.3L520.1 1117.7M561.1 1109.4L599.9 1097.5M639.8 1084.3L784.2 1032.4M824.1 1019.3L862.9 1007.6M903.6 997.5L1046.9 969.6M1088.5 964.3L1125.5 961.9M1167.4 963.0L1310.1 979.5M1350.4 989.9L1391.1 1006.5M1428.5 1025.3L1471.5 1050.9M1503.6 1077.2L1554.9 1133.5M1586.3 1161.0L1598.2 1169.2M1696.0 1181.2L1732.0 1181.2M1774.0 1181.2L1811.5 1181.2" stroke="#FF0080" stroke-width="2.1" fill="none" opacity="0.8"/><text x="356.5" y="1146.2" class="idx" fill="#FF0080">2</text><text x="541.0" y="1127.4" class="idx" fill="#FF0080">3</text><text x="620.0" y="1103.2" class="idx" fill="#FF0080">4</text><text x="804.0" y="1037.2" class="idx" fill="#FF0080">5</text><text x="883.0" y="1013.3" class="idx" fill="#FF0080">6</text><text x="1067.5" y="977.4" class="idx" fill="#FF0080">7</text><text x="1146.5" y="972.4" class="idx" fill="#FF0080">8</text><text x="1331.0" y="993.7" class="idx" fill="#FF0080">9</text><text x="1410.5" y="1026.3" class="idx" fill="#FF0080">10</text><text x="1489.5" y="1073.5" class="idx" fill="#FF0080">11</text><text x="1569.0" y="1160.8" class="idx" fill="#FF0080">12</text><text x="1615.5" y="1193.0" class="idx" fill="#FF0080">13</text><text x="1648.0" y="1193.0" class="idx" fill="#FF0080">14</text><text x="1675.0" y="1193.0" class="idx" fill="#FF0080">15</text><text x="1753.0" y="1193.0" class="idx" fill="#FF0080">16</text><text x="1832.5" y="1193.0" class="idx" fill="#FF0080">17</text>
<rect x="223.5" y="66.5" width="1846.0" height="1356.0" fill="none" stroke="#000" stroke-width="5"/><path d="M356.5 1422.5V1394.5M620.0 1422.5V1394.5M883.5 1422.5V1394.5M1147.0 1422.5V1394.5M1410.5 1422.5V1394.5M1674.0 1422.5V1394.5M1937.5 1422.5V1394.5M488.2 1422.5V1407.5M751.8 1422.5V1407.5M1015.2 1422.5V1407.5M1278.8 1422.5V1407.5M1542.2 1422.5V1407.5M1805.8 1422.5V1407.5M2069.2 1422.5V1407.5M223.5 1423.1H252.5M223.5 1214.2H252.5M223.5 1005.3H252.5M223.5 796.4H252.5M223.5 587.5H252.5M223.5 378.6H252.5M223.5 169.7H252.5M223.5 1318.7H239.5M223.5 1109.8H239.5M223.5 900.8H239.5M223.5 692.0H239.5M223.5 483.1H239.5M223.5 274.1H239.5" stroke="#000" stroke-width="4.5" fill="none"/>
<text x="191" y="1437.6" class="tl" text-anchor="end">45</text><text x="191" y="1228.7" class="tl" text-anchor="end">50</text><text x="191" y="1019.8" class="tl" text-anchor="end">55</text><text x="191" y="810.9" class="tl" text-anchor="end">60</text><text x="191" y="602.0" class="tl" text-anchor="end">65</text><text x="191" y="393.1" class="tl" text-anchor="end">70</text><text x="191" y="184.2" class="tl" text-anchor="end">75</text><text x="354.5" y="1494" class="tl" text-anchor="middle">-8</text><text x="618.0" y="1494" class="tl" text-anchor="middle">-7</text><text x="881.5" y="1494" class="tl" text-anchor="middle">-6</text><text x="1145.0" y="1494" class="tl" text-anchor="middle">-5</text><text x="1408.5" y="1494" class="tl" text-anchor="middle">-4</text><text x="1672.0" y="1494" class="tl" text-anchor="middle">-3</text><text x="1935.5" y="1494" class="tl" text-anchor="middle">-2</text><text x="1075" y="1605" class="at" style="stroke:none">log<tspan dx="3" font-style="italic">C</tspan></text><text transform="translate(80,1036.5) rotate(-90)" class="at" style="stroke-width:1.2px">Contact angle,<tspan dx="21" font-style="italic" font-size="68">θ</tspan></text><text x="385.8" y="184.5" class="pl">1-8</text><text x="419.5" y="326.5" class="pl">11</text><text x="382.5" y="451.5" class="pl">12</text><text x="417.5" y="880" class="pl">13</text><text x="388.8" y="1001.5" class="pl">14</text><text x="368.8" y="1096.5" class="pl">15</text><text x="427.5" y="1189.5" class="pl">16</text><text x="1413" y="514" class="pl">10</text><text transform="translate(1898,1122) scale(0.88,1)" class="pl">9</text><path d="M1422.5 509.6L1398.2 526.4" stroke="#000" stroke-width="3.2"/><polygon points="1374.3,542.9 1397.6,515.1 1401.5,524.1 1408.6,530.9" fill="#000"/><path d="M1891.3 1109.8L1868.6 1128.0" stroke="#000" stroke-width="3.2"/><polygon points="1846.0,1146.2 1867.3,1116.8 1871.7,1125.5 1879.3,1131.8" fill="#000"/>
</svg>
</body></html>
